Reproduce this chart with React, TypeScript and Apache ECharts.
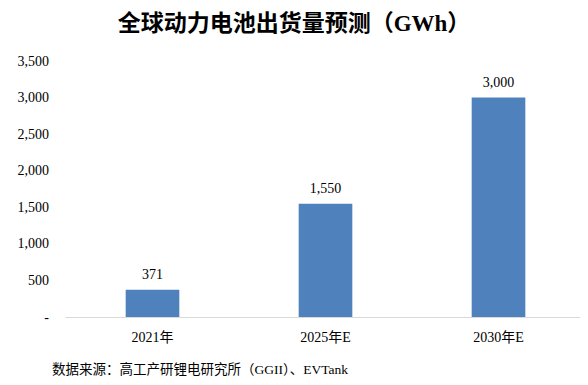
import React, { useEffect, useRef } from "react";
import * as echarts from "echarts";

const categories = ["2021年", "2025年E", "2030年E"];
const shipments = [371, 1550, 3000];
const yTicks = [0, 500, 1000, 1500, 2000, 2500, 3000, 3500];
const titleText = "全球动力电池出货量预测（GWh）";
const sourceText = "数据来源：高工产研锂电研究所（GGII）、EVTank";

const FONT = '"Liberation Serif", "Times New Roman", "Noto Sans CJK SC", serif';

export default function App() {
  const ref = useRef<HTMLDivElement>(null);
  useEffect(() => {
    if (!ref.current) return;
    const chart = echarts.init(ref.current, undefined, { renderer: "svg" });
    chart.setOption({
      animation: false,
      backgroundColor: "#ffffff",
      title: {
        text: titleText,
        left: "center",
        top: 7,
        textStyle: {
          fontFamily: FONT,
          fontSize: 23,
          fontWeight: "bold",
          color: "#000000",
        },
      },
      graphic: [
        {
          type: "text",
          left: 52,
          top: 363,
          style: {
            text: sourceText,
            font: `13.5px ${FONT}`,
            fill: "#000000",
          },
        },
      ],
      grid: { left: 66, right: 3, top: 61, bottom: 68 },
      xAxis: {
        type: "category",
        data: categories,
        axisLine: { show: true, lineStyle: { color: "#d9d9d9", width: 1 } },
        axisTick: { show: false },
        axisLabel: {
          margin: 13,
          fontFamily: FONT,
          fontSize: 14,
          color: "#000000",
        },
      },
      yAxis: {
        type: "value",
        min: yTicks[0],
        max: yTicks[yTicks.length - 1],
        interval: 500,
        splitLine: { show: false },
        axisLine: { show: false },
        axisTick: { show: false },
        axisLabel: {
          margin: 17,
          fontFamily: FONT,
          fontSize: 14,
          color: "#000000",
          formatter: (v: number) =>
            v === 0 ? "-" : v.toLocaleString("en-US"),
        },
      },
      series: [
        {
          type: "bar",
          data: shipments,
          barWidth: "31%",
          itemStyle: { color: "#4f81bd" },
          label: {
            show: true,
            position: "top",
            distance: 8,
            fontFamily: FONT,
            fontSize: 14,
            color: "#000000",
            formatter: (p: any) => Number(p.value).toLocaleString("en-US"),
          },
        },
      ],
    });
    return () => chart.dispose();
  }, []);
  return <div ref={ref} style={{ width: 588, height: 385, margin: -8 }} />;
}
